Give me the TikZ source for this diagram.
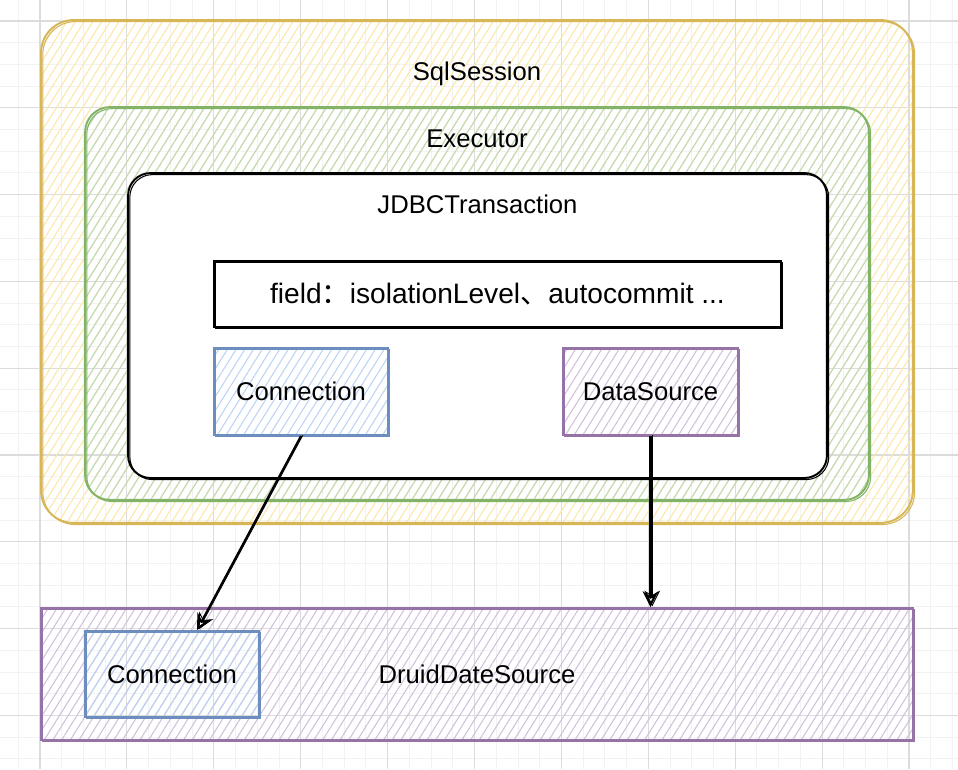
\documentclass[tikz,border=0pt]{standalone}
\usepackage{fontspec}
\setmainfont{Liberation Sans}
\newfontfamily\cjk{Noto Sans CJK SC}
\usepackage{tikz}
\usetikzlibrary{positioning,arrows.meta,patterns.meta,calc}

\definecolor{yellowline}{HTML}{D6B656}
\definecolor{yellowhatch}{HTML}{FDE7A6}
\definecolor{greenline}{HTML}{82B366}
\definecolor{greenhatch}{HTML}{BCDBB6}
\definecolor{blueline}{HTML}{6C8EBF}
\definecolor{bluehatch}{HTML}{BDD3F2}
\definecolor{purpleline}{HTML}{9673A6}
\definecolor{purplehatch}{HTML}{D3BFDD}
\definecolor{gridminor}{HTML}{F2F2F2}
\definecolor{gridmajor}{HTML}{DCDCDC}

\begin{document}
\begin{tikzpicture}[
    x=0.02cm, y=-0.02cm,
    font=\fontsize{14.6}{17}\selectfont,
    >=Stealth,
    sketch/.style={
        line width=1.1pt,
        postaction={draw, line width=0.6pt,
            transform canvas={shift={(1pt,-0.9pt)}}}
    },
    hatch/.style={
        pattern={Lines[angle=58,distance=4.2pt,line width=0.6pt]},
        pattern color=#1
    },
    container/.style={
        draw=#1line,
        hatch=#1hatch,
        sketch,
        inner sep=0pt
    },
    member/.style={
        draw=#1line,
        hatch=#1hatch,
        sketch,
        align=center,
        inner sep=0pt
    },
    plain/.style={
        draw=black,
        fill=white,
        sketch,
        inner sep=0pt
    },
    title/.style={inner sep=1pt},
    link/.style={
        -{Stealth[open,length=9pt,width=9pt]},
        line width=1.2pt,
        postaction={draw, line width=0.5pt,
            transform canvas={shift={(1pt,0.4pt)}}}
    }
]
\useasboundingbox (0,0) rectangle (958,769);

%-----------------------------------
% Background grid
%-----------------------------------
\fill[white] (0,0) rectangle (958,769);
\foreach \i in {-1,...,42}
    \draw[gridminor, line width=0.5pt] ({40+21.725*\i},0) -- ({40+21.725*\i},769);
\foreach \j in {0,...,35}
    \draw[gridminor, line width=0.5pt] (0,{21+21.7*\j}) -- (958,{21+21.7*\j});
\foreach \i in {0,...,10}
    \draw[gridmajor, line width=0.6pt] ({40+86.9*\i},0) -- ({40+86.9*\i},769);
\foreach \j in {0,...,8}
    \draw[gridmajor, line width=0.6pt] (0,{21+86.8*\j}) -- (958,{21+86.8*\j});

%-----------------------------------
% Nested containers
%-----------------------------------
\node[container=yellow, minimum width=17.44cm, minimum height=10.06cm,
      rounded corners=0.65cm] (sqlsession) at (477,271.5) {};
\node[title] (sqltitle) at ([yshift=-1.1cm]sqlsession.north) {SqlSession};

\node[container=green, minimum width=15.68cm, minimum height=7.86cm,
      rounded corners=0.5cm] (executor) at (477,303.5) {};
\node[title] (exectitle) at ([yshift=-0.66cm]executor.north) {Executor};

\node[plain, minimum width=13.98cm, minimum height=6.1cm,
      rounded corners=0.45cm] (jdbc) at (477.5,325.5) {};
\node[title] (jdbctitle) at ([yshift=-0.64cm]jdbc.north) {JDBCTransaction};

%-----------------------------------
% Inside the transaction
%-----------------------------------
\node[plain, minimum width=11.34cm, minimum height=1.32cm,
      font=\fontsize{16}{19}\selectfont] (fields) at (497.5,294)
    {field{\cjk ：}isolationLevel{\cjk 、}autocommit ...};

\node[member=blue, minimum width=3.48cm, minimum height=1.74cm] (conninner) at (301,391.5) {Connection};
\node[member=purple, minimum width=3.5cm, minimum height=1.74cm] (datasource) at (650.5,391.5) {DataSource};

%-----------------------------------
% Pool
%-----------------------------------
\node[container=purple, minimum width=17.44cm, minimum height=2.64cm] (druid) at (477,674) {DruidDateSource};
\node[member=blue, minimum width=3.48cm, minimum height=1.72cm] (connouter) at (172,674) {Connection};

%-----------------------------------
% Arrows
%-----------------------------------
\draw[link] (conninner.south) -- ([xshift=0.5cm]connouter.north);
\draw[link] (datasource.south) -- (datasource.south |- druid.north);

\end{tikzpicture}
\end{document}
